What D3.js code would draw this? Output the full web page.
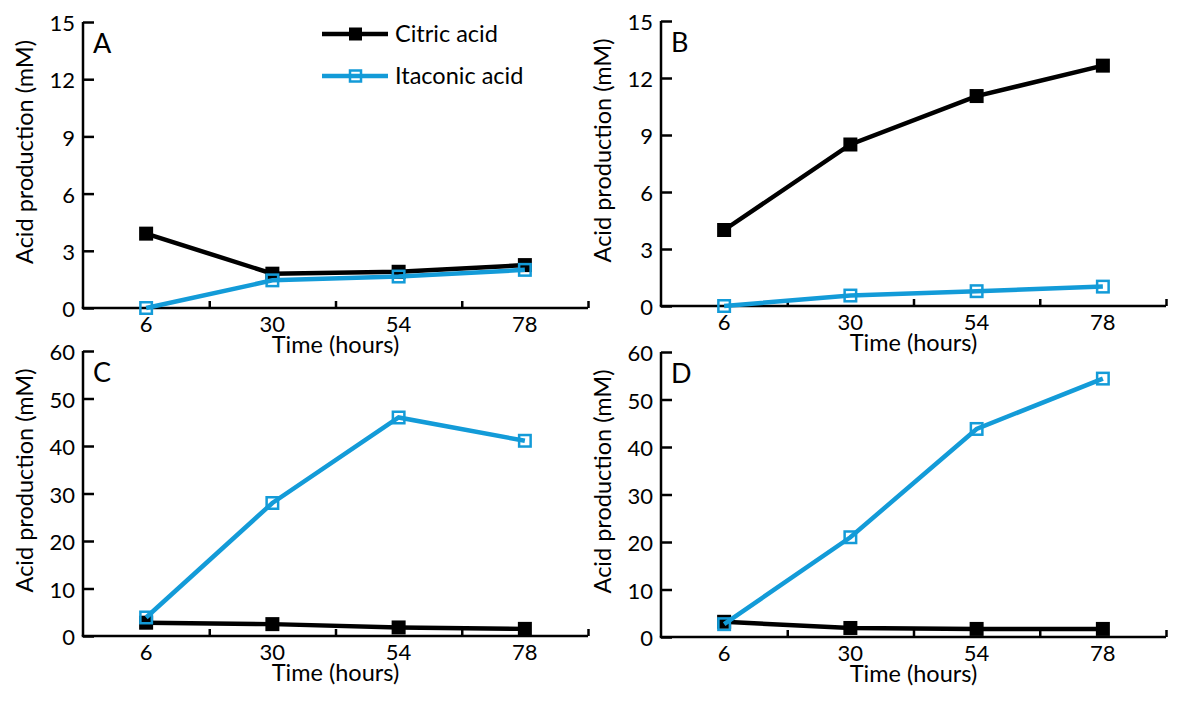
<!DOCTYPE html>
<html>
<head>
<meta charset="utf-8">
<script src="https://cdn.jsdelivr.net/npm/d3@7"></script>
<style>
  html, body { margin: 0; padding: 0; background: #fff; }
  svg { display: block; }
  text { font-family: Lato, "Open Sans", sans-serif; fill: #000; }
</style>
</head>
<body>
<svg id="chart" width="1200" height="706"></svg>
<script>
// ---- data ----
const times = [6, 30, 54, 78];
const xTickMarks = [18, 42, 66, 90];
const seriesNames = ["Citric acid", "Itaconic acid"];
const panelLetters = ["A", "B", "C", "D"];
const yTicksTop = [0, 3, 6, 9, 12, 15];
const yTicksBottom = [0, 10, 20, 30, 40, 50, 60];

const citricA = [3.9, 1.8, 1.9, 2.25];
const itaconicA = [0, 1.45, 1.65, 2.0];
const citricB = [4.0, 8.5, 11.05, 12.65];
const itaconicB = [0, 0.55, 0.78, 1.02];
const citricC = [2.8, 2.5, 1.8, 1.5];
const itaconicC = [3.9, 28.0, 46.0, 41.1];
const citricD = [3.2, 1.9, 1.7, 1.7];
const itaconicD = [2.7, 21.0, 43.8, 54.4];

// ---- styles ----
const BLACK = "#000000";
const BLUE = "#139bd8";
const TICK_FONT = 22;
const TITLE_FONT = 23.5;

const panels = [
  {letter: panelLetters[0], citric: citricA, itaconic: itaconicA, yMax: 15, yTicks: yTicksTop,    x0: 83,  x1: 588,  y0: 308, y1: 22},
  {letter: panelLetters[1], citric: citricB, itaconic: itaconicB, yMax: 15, yTicks: yTicksTop,    x0: 661, x1: 1166, y0: 306, y1: 21},
  {letter: panelLetters[2], citric: citricC, itaconic: itaconicC, yMax: 60, yTicks: yTicksBottom, x0: 83,  x1: 588,  y0: 636, y1: 351},
  {letter: panelLetters[3], citric: citricD, itaconic: itaconicD, yMax: 60, yTicks: yTicksBottom, x0: 661, x1: 1166, y0: 637, y1: 352}
];

const svg = d3.select("#chart");
svg.append("rect").attr("width", 1200).attr("height", 706).attr("fill", "#fff");

panels.forEach(p => {
  const x = d3.scaleLinear().domain([-6, 90]).range([p.x0, p.x1]);
  const y = d3.scaleLinear().domain([0, p.yMax]).range([p.y0, p.y1]);
  const g = svg.append("g");

  // y axis (ticks inward)
  const yAxis = d3.axisRight(y).tickValues(p.yTicks).tickSize(11).tickFormat("");
  const ya = g.append("g").attr("transform", `translate(${p.x0},0)`).call(yAxis);
  ya.select(".domain").attr("d", `M0,${p.y1}V${p.y0}`);
  ya.selectAll("path, line").attr("stroke", BLACK).attr("stroke-width", 2.5);
  g.selectAll(".ylab").data(p.yTicks).enter().append("text")
    .attr("x", p.x0 - 8).attr("y", d => y(d)).attr("dy", "0.42em")
    .attr("text-anchor", "end").attr("font-size", TICK_FONT).text(d => d);

  // x axis (ticks inward between categories)
  const xAxis = d3.axisTop(x).tickValues(xTickMarks).tickSize(7).tickFormat("");
  const xa = g.append("g").attr("transform", `translate(0,${p.y0})`).call(xAxis);
  xa.select(".domain").attr("d", `M${p.x0 - 1.25},0H${p.x1}`);
  xa.selectAll("path, line").attr("stroke", BLACK).attr("stroke-width", 2.5);
  g.selectAll(".xlab").data(times).enter().append("text")
    .attr("x", d => x(d)).attr("y", p.y0 + 24)
    .attr("text-anchor", "middle").attr("font-size", TICK_FONT).text(d => d);

  // axis titles
  g.append("text").attr("x", (p.x0 + p.x1) / 2).attr("y", p.y0 + 45)
    .attr("text-anchor", "middle").attr("font-size", TITLE_FONT).text("Time (hours)");
  g.append("text")
    .attr("transform", `translate(${p.x0 - 50},${(p.y0 + p.y1) / 2 - 13}) rotate(-90)`)
    .attr("text-anchor", "middle").attr("font-size", TITLE_FONT).text("Acid production (mM)");

  // panel letter
  g.append("text").attr("x", p.x0 + 10).attr("y", p.y1 + 31)
    .attr("font-size", 27).text(p.letter);

  const line = d3.line().x((d, i) => x(times[i])).y(d => y(d));

  // citric (black, filled squares)
  g.append("path").datum(p.citric).attr("d", line)
    .attr("fill", "none").attr("stroke", BLACK).attr("stroke-width", 4.5);
  g.selectAll(".cm").data(p.citric).enter().append("rect")
    .attr("x", (d, i) => x(times[i]) - 7).attr("y", d => y(d) - 7)
    .attr("width", 14).attr("height", 14).attr("fill", BLACK);

  // itaconic (blue, open squares)
  g.append("path").datum(p.itaconic).attr("d", line)
    .attr("fill", "none").attr("stroke", BLUE).attr("stroke-width", 4.5);
  g.selectAll(".im").data(p.itaconic).enter().append("rect")
    .attr("x", (d, i) => x(times[i]) - 5.75).attr("y", d => y(d) - 5.75)
    .attr("width", 11.5).attr("height", 11.5).attr("fill", "none")
    .attr("stroke", BLUE).attr("stroke-width", 2.5);
});

// legend
const legend = svg.append("g");
const legY = [34, 76];
const legColors = [BLACK, BLUE];
seriesNames.forEach((name, i) => {
  const ly = legY[i];
  legend.append("line").attr("x1", 322).attr("x2", 388).attr("y1", ly).attr("y2", ly)
    .attr("stroke", legColors[i]).attr("stroke-width", 4.5);
  if (i === 0) {
    legend.append("rect").attr("x", 349).attr("y", ly - 6.5).attr("width", 13).attr("height", 13).attr("fill", BLACK);
  } else {
    legend.append("rect").attr("x", 350).attr("y", ly - 5.5).attr("width", 11).attr("height", 11)
      .attr("fill", "none").attr("stroke", BLUE).attr("stroke-width", 2.5);
  }
  legend.append("text").attr("x", 395).attr("y", ly).attr("dy", "0.36em")
    .attr("font-size", TITLE_FONT).text(name);
});
</script>
</body>
</html>
